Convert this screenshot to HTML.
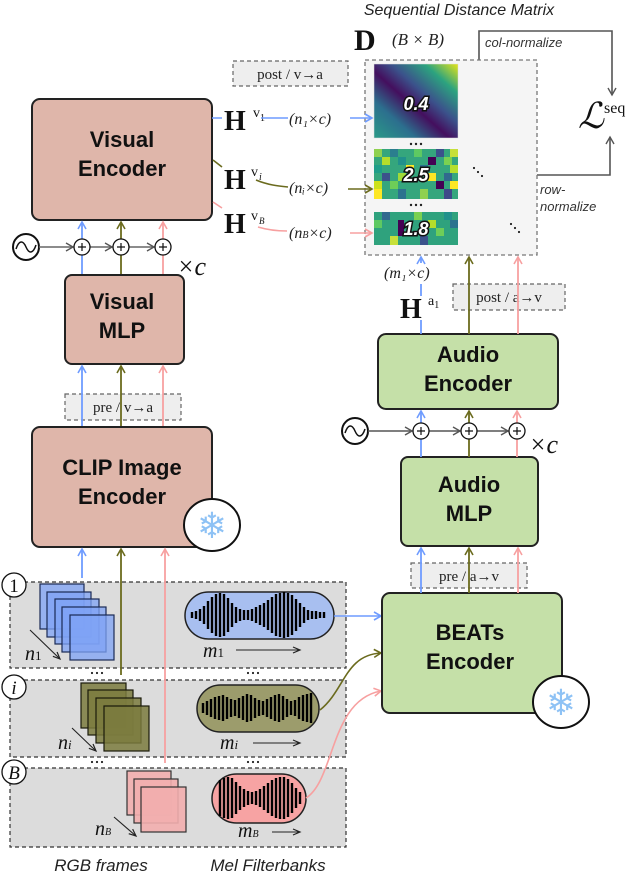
<!DOCTYPE html>
<html><head><meta charset="utf-8"><style>
html,body{margin:0;padding:0;background:#fff;}
svg{display:block;}
.sans{font-family:"Liberation Sans",sans-serif;}
.ser{font-family:"Liberation Serif",serif;}
</style></head><body>
<svg width="640" height="874" viewBox="0 0 640 874" xmlns="http://www.w3.org/2000/svg">
<defs>
<marker id="ab" markerWidth="10" markerHeight="10" refX="8" refY="5" orient="auto" markerUnits="userSpaceOnUse"><path d="M1,1 L8,5 L1,9" fill="none" stroke="#6f9cff" stroke-width="1.6"/></marker>
<marker id="ao" markerWidth="10" markerHeight="10" refX="8" refY="5" orient="auto" markerUnits="userSpaceOnUse"><path d="M1,1 L8,5 L1,9" fill="none" stroke="#6b6b1e" stroke-width="1.6"/></marker>
<marker id="ap" markerWidth="10" markerHeight="10" refX="8" refY="5" orient="auto" markerUnits="userSpaceOnUse"><path d="M1,1 L8,5 L1,9" fill="none" stroke="#f7a0a0" stroke-width="1.6"/></marker>
<marker id="ag" markerWidth="10" markerHeight="10" refX="8" refY="5" orient="auto" markerUnits="userSpaceOnUse"><path d="M1,1 L8,5 L1,9" fill="none" stroke="#555" stroke-width="1.4"/></marker>
<marker id="ak" markerWidth="10" markerHeight="10" refX="8" refY="5" orient="auto" markerUnits="userSpaceOnUse"><path d="M1,2 L8,5 L1,8" fill="none" stroke="#222" stroke-width="1.2"/></marker>
<linearGradient id="hm1" x1="0" y1="1" x2="1" y2="0">
<stop offset="0" stop-color="#2a9a87"/><stop offset="0.25" stop-color="#2c6f8e"/><stop offset="0.45" stop-color="#440f5e"/><stop offset="0.6" stop-color="#3b528b"/><stop offset="0.8" stop-color="#2ca37f"/><stop offset="1" stop-color="#e5e419"/>
</linearGradient>
</defs>

<!-- Title -->
<text x="459" y="15" text-anchor="middle" class="sans" font-style="italic" font-size="16" fill="#222">Sequential Distance Matrix</text>
<text x="354" y="50" class="ser" font-weight="bold" font-size="30" fill="#111">D</text>
<text x="392" y="45" class="ser" font-style="italic" font-size="17" fill="#222">(B × B)</text>

<!-- col-normalize -->
<path d="M479,60 V31 H612 V95" fill="none" stroke="#555" stroke-width="1.6" marker-end="url(#ag)"/>
<text x="485" y="47" class="sans" font-style="italic" font-size="13" fill="#333">col-normalize</text>
<!-- row-normalize -->
<path d="M537,175 H610 V137" fill="none" stroke="#555" stroke-width="1.6" marker-end="url(#ag)"/>
<text x="540" y="194" class="sans" font-style="italic" font-size="13" fill="#333">row-</text>
<text x="540" y="211" class="sans" font-style="italic" font-size="13" fill="#333">normalize</text>
<!-- L seq -->
<text x="578" y="128" font-family="DejaVu Serif,serif" font-style="italic" font-size="36" fill="#111">ℒ</text>
<text x="604" y="113" class="ser" font-size="16" fill="#111">seq</text>

<!-- Matrix container -->
<rect x="365" y="60" width="172" height="195" fill="#f5f5f5" stroke="#777" stroke-width="1.3" stroke-dasharray="4,3"/>
<rect x="374" y="64" width="84" height="74" fill="url(#hm1)"/>
<g>
<rect x="374" y="64" width="84" height="74" fill="none" stroke="#ddd" stroke-width="0.5"/>
</g>
<!-- heatmap 2 -->
<rect x="374" y="149" width="84" height="50" fill="#35a67d"/>
<g>
<rect x="374" y="149" width="8" height="8" fill="#8fd14f"/><rect x="390" y="149" width="8" height="8" fill="#2b7e8e"/><rect x="414" y="149" width="8" height="8" fill="#5ec962"/><rect x="436" y="149" width="8" height="8" fill="#3b528b"/><rect x="450" y="149" width="8" height="8" fill="#c6e03a"/>
<rect x="382" y="157" width="8" height="8" fill="#b5de2b"/><rect x="398" y="157" width="8" height="8" fill="#21918c"/><rect x="428" y="157" width="8" height="8" fill="#440154"/><rect x="444" y="157" width="8" height="8" fill="#7ad151"/>
<rect x="374" y="165" width="8" height="8" fill="#1f9e89"/><rect x="406" y="165" width="8" height="8" fill="#fde725"/><rect x="420" y="165" width="8" height="8" fill="#2c728e"/><rect x="450" y="165" width="8" height="8" fill="#b5de2b"/>
<rect x="382" y="173" width="8" height="8" fill="#3b528b"/><rect x="398" y="173" width="8" height="8" fill="#a0da39"/><rect x="428" y="173" width="8" height="8" fill="#fde725"/><rect x="444" y="173" width="8" height="8" fill="#30698e"/>
<rect x="374" y="181" width="8" height="8" fill="#cde11d"/><rect x="390" y="181" width="8" height="8" fill="#6ece58"/><rect x="436" y="181" width="8" height="8" fill="#440154"/><rect x="450" y="181" width="8" height="8" fill="#fde725"/>
<rect x="374" y="189" width="8" height="10" fill="#fde725"/><rect x="398" y="189" width="8" height="10" fill="#2c728e"/><rect x="420" y="189" width="8" height="10" fill="#8fd14f"/><rect x="444" y="189" width="8" height="10" fill="#3e4a89"/>
</g>
<!-- heatmap 3 -->
<rect x="374" y="212" width="84" height="33" fill="#2fa27d"/>
<g>
<rect x="382" y="212" width="8" height="8" fill="#31688e"/><rect x="414" y="212" width="8" height="8" fill="#7ad151"/><rect x="444" y="212" width="8" height="8" fill="#21918c"/>
<rect x="374" y="220" width="8" height="8" fill="#5ec962"/><rect x="398" y="220" width="6" height="16" fill="#440154"/><rect x="428" y="220" width="8" height="8" fill="#b5de2b"/><rect x="450" y="220" width="8" height="8" fill="#2c728e"/>
<rect x="390" y="236" width="8" height="9" fill="#c6e03a"/><rect x="420" y="236" width="8" height="9" fill="#3b528b"/><rect x="436" y="228" width="8" height="8" fill="#6ece58"/>
</g>
<g class="sans" font-weight="bold" font-style="italic" font-size="18" fill="#fff" stroke="#111" stroke-width="3" paint-order="stroke" text-anchor="middle">
<text x="416" y="110">0.4</text><text x="416" y="181">2.5</text><text x="416" y="235">1.8</text>
</g>
<g fill="#222"><circle cx="411" cy="144" r="1.2"/><circle cx="416" cy="144" r="1.2"/><circle cx="421" cy="144" r="1.2"/>
<circle cx="411" cy="205" r="1.2"/><circle cx="416" cy="205" r="1.2"/><circle cx="421" cy="205" r="1.2"/>
<circle cx="474" cy="168" r="1.1"/><circle cx="478" cy="172" r="1.1"/><circle cx="482" cy="176" r="1.1"/>
<circle cx="511" cy="224" r="1.1"/><circle cx="515" cy="228" r="1.1"/><circle cx="519" cy="232" r="1.1"/></g>

<!-- post v->a -->
<rect x="233" y="61" width="115" height="25" fill="#eee" stroke="#666" stroke-width="1.2" stroke-dasharray="4,3"/>
<text x="290" y="79" text-anchor="middle" class="ser" font-size="15" fill="#222">post / v→a</text>

<!-- Visual Encoder -->
<rect x="32" y="99" width="180" height="121" rx="8" fill="#dfb6aa" stroke="#222" stroke-width="2"/>
<text x="122" y="147" text-anchor="middle" class="sans" font-weight="bold" font-size="22" fill="#111">Visual</text>
<text x="122" y="176" text-anchor="middle" class="sans" font-weight="bold" font-size="22" fill="#111">Encoder</text>

<!-- H labels -->
<g class="ser" font-weight="bold" font-size="28" fill="#111">
<text x="224" y="130">H</text><text x="224" y="189">H</text><text x="224" y="233">H</text>
</g>
<g class="ser" font-size="14" fill="#111"><text x="253" y="117">v</text><text x="260" y="121" font-size="10">1</text>
<text x="251" y="176">v</text><text x="259" y="180" font-size="10" font-style="italic">i</text>
<text x="251" y="220">v</text><text x="259" y="224" font-size="9" font-style="italic">B</text></g>
<g class="ser" font-style="italic" font-size="16" fill="#222">
<text x="289" y="124">(n₁×c)</text><text x="289" y="193">(nᵢ×c)</text><text x="289" y="238">(n<tspan font-size="10">B</tspan>×c)</text>
</g>
<g fill="none" stroke-width="1.6">
<path d="M212,118 H222 M261,118 H288" stroke="#6f9cff"/>
<path d="M350,118 H372" stroke="#6f9cff" marker-end="url(#ab)"/>
<path d="M213,160 L222,167 M256,180 C268,185 278,186 288,187" stroke="#6b6b1e"/>
<path d="M348,189 H372" stroke="#6b6b1e" marker-end="url(#ao)"/>
<path d="M213,202 L222,208 M258,227 C268,230 278,231 287,231" stroke="#f7a0a0"/>
<path d="M350,233 H372" stroke="#f7a0a0" marker-end="url(#ap)"/>
</g>

<!-- visual plus row -->
<circle cx="26" cy="247" r="13" fill="#fff" stroke="#111" stroke-width="2"/>
<path d="M16,249 C19,240 23,240 26,247 C29,254 33,254 36,245" fill="none" stroke="#111" stroke-width="1.5"/>
<g fill="none" stroke="#666" stroke-width="1.6">
<path d="M39,247 H73" marker-end="url(#ag)"/><path d="M90,247 H112" marker-end="url(#ag)"/><path d="M129,247 H154" marker-end="url(#ag)"/>
</g>
<g fill="none" stroke-width="1.8">
<path d="M82,275 V255 M82,239 V222" stroke="#6f9cff" marker-end="url(#ab)"/>
<path d="M121,275 V255 M121,239 V222" stroke="#6b6b1e" marker-end="url(#ao)"/>
<path d="M163,275 V255 M163,239 V222" stroke="#f7a0a0" marker-end="url(#ap)"/>
</g>
<g fill="#fff" stroke="#111" stroke-width="1.3">
<circle cx="82" cy="247" r="8"/><circle cx="121" cy="247" r="8"/><circle cx="163" cy="247" r="8"/>
</g>
<path d="M78,247 H86 M82,243 V251 M117,247 H125 M121,243 V251 M159,247 H167 M163,243 V251" stroke="#111" stroke-width="1.2"/>
<text x="177" y="275" class="ser" font-style="italic" font-size="26" fill="#111">×c</text>

<!-- Visual MLP -->
<rect x="65" y="275" width="119" height="89" rx="7" fill="#dfb6aa" stroke="#222" stroke-width="2"/>
<text x="122" y="309" text-anchor="middle" class="sans" font-weight="bold" font-size="22" fill="#111">Visual</text>
<text x="122" y="338" text-anchor="middle" class="sans" font-weight="bold" font-size="22" fill="#111">MLP</text>

<!-- pre v->a -->
<rect x="65" y="394" width="116" height="26" fill="#eee" stroke="#666" stroke-width="1.2" stroke-dasharray="4,3"/>
<text x="123" y="412" text-anchor="middle" class="ser" font-size="15" fill="#222">pre / v→a</text>
<g fill="none" stroke-width="1.8">
<path d="M82,427 V366" stroke="#6f9cff" marker-end="url(#ab)"/>
<path d="M121,427 V366" stroke="#6b6b1e" marker-end="url(#ao)"/>
<path d="M163,427 V366" stroke="#f7a0a0" marker-end="url(#ap)"/>
</g>

<!-- CLIP -->
<rect x="32" y="427" width="180" height="120" rx="8" fill="#dfb6aa" stroke="#222" stroke-width="2"/>
<text x="122" y="475" text-anchor="middle" class="sans" font-weight="bold" font-size="22" fill="#111">CLIP Image</text>
<text x="122" y="504" text-anchor="middle" class="sans" font-weight="bold" font-size="22" fill="#111">Encoder</text>
<ellipse cx="212" cy="525" rx="28" ry="26" fill="#fff" stroke="#111" stroke-width="2"/>
<text x="212" y="538" text-anchor="middle" font-family="DejaVu Sans,sans-serif" font-size="36" fill="#8ec2f5">❄</text>

<!-- Rows -->
<rect x="10" y="582" width="336" height="86" fill="#dcdcdc" stroke="#333" stroke-width="1.2" stroke-dasharray="4,3"/>
<rect x="10" y="680" width="336" height="77" fill="#dcdcdc" stroke="#333" stroke-width="1.2" stroke-dasharray="4,3"/>
<rect x="10" y="768" width="336" height="79" fill="#dcdcdc" stroke="#333" stroke-width="1.2" stroke-dasharray="4,3"/>
<g fill="#fff" stroke="#111" stroke-width="1.3">
<circle cx="14" cy="585" r="12"/><circle cx="14" cy="687" r="12"/><circle cx="14" cy="772" r="12"/>
</g>
<g class="ser" font-size="19" fill="#111" text-anchor="middle">
<text x="14" y="592">1</text><text x="14" y="694" font-style="italic">i</text><text x="14" y="779" font-style="italic">B</text>
</g>
<g fill="#222"><circle cx="92" cy="673" r="1.1"/><circle cx="97" cy="673" r="1.1"/><circle cx="102" cy="673" r="1.1"/>
<circle cx="248" cy="673" r="1.1"/><circle cx="253" cy="673" r="1.1"/><circle cx="258" cy="673" r="1.1"/>
<circle cx="92" cy="762" r="1.1"/><circle cx="97" cy="762" r="1.1"/><circle cx="102" cy="762" r="1.1"/>
<circle cx="248" cy="762" r="1.1"/><circle cx="253" cy="762" r="1.1"/><circle cx="258" cy="762" r="1.1"/></g>

<!-- frames row1 -->
<g fill="#7fa3f5" fill-opacity="0.75" stroke="#1a2a55" stroke-width="1.2">
<rect x="40" y="584" width="44" height="45"/><rect x="47" y="592" width="44" height="45"/><rect x="55" y="599" width="44" height="45"/><rect x="62" y="607" width="44" height="45"/><rect x="70" y="615" width="44" height="45"/>
</g>
<g fill="#7b7b3e" fill-opacity="0.85" stroke="#1a1a0a" stroke-width="1.2">
<rect x="81" y="683" width="45" height="45"/><rect x="88" y="690" width="45" height="45"/><rect x="96" y="698" width="45" height="45"/><rect x="104" y="706" width="45" height="45"/>
</g>
<g fill="#f2aeae" fill-opacity="0.9" stroke="#333" stroke-width="1.2">
<rect x="127" y="771" width="44" height="44"/><rect x="134" y="779" width="44" height="44"/><rect x="141" y="787" width="45" height="45"/>
</g>
<g fill="none" stroke="#222" stroke-width="1.1">
<path d="M30,630 L60,659" marker-end="url(#ak)"/><path d="M72,728 L96,751" marker-end="url(#ak)"/><path d="M114,817 L136,836" marker-end="url(#ak)"/>
<path d="M236,650 H300" marker-end="url(#ak)"/><path d="M253,743 H300" marker-end="url(#ak)"/><path d="M272,832 H300" marker-end="url(#ak)"/>
</g>
<g class="ser" font-style="italic" font-size="20" fill="#111">
<text x="25" y="660">n<tspan font-style="normal" font-size="13">1</tspan></text>
<text x="58" y="749">n<tspan font-size="13">i</tspan></text>
<text x="95" y="835">n<tspan font-size="10">B</tspan></text>
<text x="203" y="657">m<tspan font-style="normal" font-size="13">1</tspan></text>
<text x="220" y="749">m<tspan font-size="13">i</tspan></text>
<text x="238" y="837">m<tspan font-size="10">B</tspan></text>
</g>

<!-- mel blobs -->
<rect x="185" y="592" width="149" height="47" rx="23.5" fill="#a8bff0" stroke="#222" stroke-width="1.5"/>
<rect x="197" y="685" width="122" height="47" rx="23.5" fill="#9c9c6c" stroke="#222" stroke-width="1.5"/>
<rect x="212" y="774" width="94" height="49" rx="24.5" fill="#f7a3a3" stroke="#222" stroke-width="1.5"/>
<path stroke="#000" stroke-width="2.4" fill="none" d="
M192,612V618 M196,611V619 M200,609V621 M204,606V624 M208,601V629 M212,597V633 M216,594V636 M220,593V637 M224,594V636 M228,598V632 M232,603V627 M236,607V623 M240,609V621 M244,610V620 M248,610V620 M252,609V621 M256,607V623 M260,605V625 M264,603V627 M268,600V630 M272,597V633 M276,594V636 M280,593V637 M284,592V638 M288,593V637 M292,595V635 M296,599V631 M300,603V627 M304,607V623 M308,610V620 M312,611V619 M316,611V619 M320,612V618 M324,612V618"/>
<path stroke="#000" stroke-width="2.4" fill="none" d="
M203,703V713 M207,701V715 M211,699V717 M215,697V719 M219,696V720 M223,695V721 M227,697V719 M231,699V717 M235,700V716 M239,698V718 M243,696V720 M247,694V722 M251,695V721 M255,698V718 M259,700V716 M263,701V715 M267,699V717 M271,697V719 M275,695V721 M279,694V722 M283,696V720 M287,699V717 M291,701V715 M295,700V716 M299,697V719 M303,695V721 M307,694V722 M311,693V723"/>
<path stroke="#000" stroke-width="2.4" fill="none" d="
M220,780V816 M224,778V818 M228,777V819 M232,778V818 M236,782V814 M240,786V810 M244,789V807 M248,791V805 M252,792V804 M256,791V805 M260,789V807 M264,786V810 M268,783V813 M272,780V816 M276,778V818 M280,777V819 M284,777V819 M288,779V817 M292,783V813 M296,788V808 M300,792V804"/>

<!-- vertical visual lines from rows -->
<g fill="none" stroke-width="1.8">
<path d="M82,578 V549" stroke="#6f9cff" marker-end="url(#ab)"/>
<path d="M121,675 V549" stroke="#6b6b1e" marker-end="url(#ao)"/>
<path d="M165,763 V549" stroke="#f7a0a0" marker-end="url(#ap)"/>
</g>

<!-- mel to BEATs -->
<g fill="none" stroke-width="1.6">
<path d="M334,616 H381" stroke="#6f9cff" marker-end="url(#ab)"/>
<path d="M320,710 C345,690 345,655 381,653" stroke="#6b6b1e" marker-end="url(#ao)"/>
<path d="M306,798 C335,780 330,700 381,691" stroke="#f7a0a0" marker-end="url(#ap)"/>
</g>

<!-- BEATs -->
<rect x="382" y="593" width="180" height="120" rx="8" fill="#c5e0a8" stroke="#222" stroke-width="2"/>
<text x="470" y="640" text-anchor="middle" class="sans" font-weight="bold" font-size="22" fill="#111">BEATs</text>
<text x="470" y="669" text-anchor="middle" class="sans" font-weight="bold" font-size="22" fill="#111">Encoder</text>
<ellipse cx="561" cy="702" rx="28" ry="26" fill="#fff" stroke="#111" stroke-width="2"/>
<text x="561" y="715" text-anchor="middle" font-family="DejaVu Sans,sans-serif" font-size="36" fill="#8ec2f5">❄</text>

<!-- pre a->v -->
<rect x="411" y="563" width="116" height="25" fill="#eee" stroke="#666" stroke-width="1.2" stroke-dasharray="4,3"/>
<text x="469" y="581" text-anchor="middle" class="ser" font-size="15" fill="#222">pre / a→v</text>
<g fill="none" stroke-width="1.8">
<path d="M421,593 V548" stroke="#6f9cff" marker-end="url(#ab)"/>
<path d="M469,593 V548" stroke="#6b6b1e" marker-end="url(#ao)"/>
<path d="M518,593 V548" stroke="#f7a0a0" marker-end="url(#ap)"/>
</g>

<!-- Audio MLP -->
<rect x="401" y="457" width="137" height="89" rx="7" fill="#c5e0a8" stroke="#222" stroke-width="2"/>
<text x="469" y="492" text-anchor="middle" class="sans" font-weight="bold" font-size="22" fill="#111">Audio</text>
<text x="469" y="521" text-anchor="middle" class="sans" font-weight="bold" font-size="22" fill="#111">MLP</text>

<!-- audio plus row -->
<circle cx="355" cy="431" r="13" fill="#fff" stroke="#111" stroke-width="2"/>
<path d="M345,433 C348,424 352,424 355,431 C358,438 362,438 365,429" fill="none" stroke="#111" stroke-width="1.5"/>
<g fill="none" stroke="#555" stroke-width="1.6">
<path d="M368,431 H412" marker-end="url(#ag)"/><path d="M429,431 H460" marker-end="url(#ag)"/><path d="M477,431 H508" marker-end="url(#ag)"/>
</g>
<g fill="none" stroke-width="1.8">
<path d="M421,457 V439 M421,423 V411" stroke="#6f9cff" marker-end="url(#ab)"/>
<path d="M469,457 V439 M469,423 V411" stroke="#6b6b1e" marker-end="url(#ao)"/>
<path d="M517,457 V439 M517,423 V411" stroke="#f7a0a0" marker-end="url(#ap)"/>
</g>
<g fill="#fff" stroke="#111" stroke-width="1.3">
<circle cx="421" cy="431" r="8"/><circle cx="469" cy="431" r="8"/><circle cx="517" cy="431" r="8"/>
</g>
<path d="M417,431 H425 M421,427 V435 M465,431 H473 M469,427 V435 M513,431 H521 M517,427 V435" stroke="#111" stroke-width="1.2"/>
<text x="529" y="453" class="ser" font-style="italic" font-size="26" fill="#111">×c</text>

<!-- Audio Encoder -->
<rect x="378" y="334" width="180" height="75" rx="8" fill="#c5e0a8" stroke="#222" stroke-width="2"/>
<text x="468" y="362" text-anchor="middle" class="sans" font-weight="bold" font-size="22" fill="#111">Audio</text>
<text x="468" y="391" text-anchor="middle" class="sans" font-weight="bold" font-size="22" fill="#111">Encoder</text>

<!-- post a->v -->
<rect x="453" y="284" width="112" height="26" fill="#eee" stroke="#666" stroke-width="1.2" stroke-dasharray="4,3"/>
<text x="509" y="302" text-anchor="middle" class="ser" font-size="15" fill="#222">post / a→v</text>
<g fill="none" stroke-width="1.8">
<path d="M421,334 V320 M421,296 V284" stroke="#6f9cff"/>
<path d="M421,263 V257" stroke="#6f9cff" marker-end="url(#ab)"/>
<path d="M469,334 V257" stroke="#6b6b1e" marker-end="url(#ao)"/>
<path d="M518,334 V257" stroke="#f7a0a0" marker-end="url(#ap)"/>
</g>
<text x="400" y="318" class="ser" font-weight="bold" font-size="28" fill="#111">H</text>
<text x="428" y="305" class="ser" font-size="14" fill="#111">a<tspan font-size="10" dy="3">1</tspan></text>
<text x="384" y="278" class="ser" font-style="italic" font-size="16" fill="#222">(m₁×c)</text>

<!-- bottom labels -->
<text x="101" y="871" text-anchor="middle" class="sans" font-style="italic" font-size="17" fill="#222">RGB frames</text>
<text x="268" y="871" text-anchor="middle" class="sans" font-style="italic" font-size="17" fill="#222">Mel Filterbanks</text>
</svg>
</body></html>
